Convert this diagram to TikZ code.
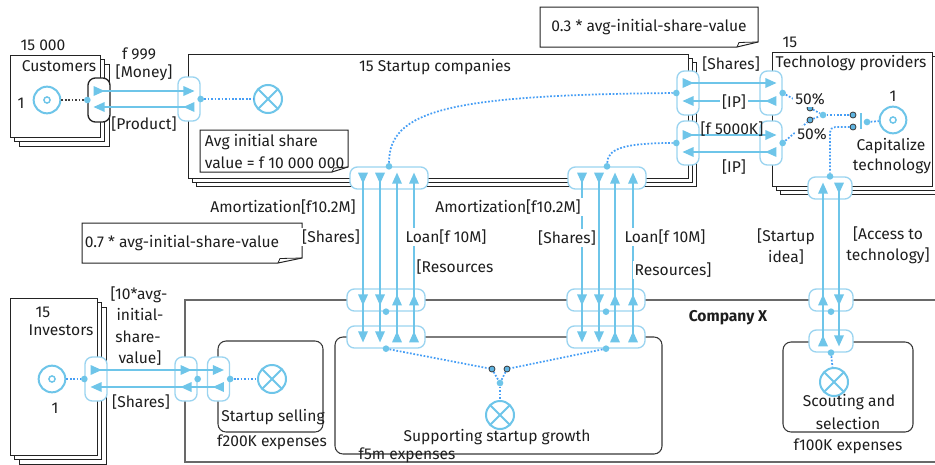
\documentclass[tikz,border=0pt]{standalone}
\usepackage{fontspec}
\setmainfont{Fira Sans}
\usetikzlibrary{decorations.markings}
\definecolor{flowc}{RGB}{110,197,233}
\definecolor{portc}{RGB}{155,212,240}
\definecolor{dotc}{RGB}{70,158,245}
\definecolor{txt}{RGB}{30,30,30}
\definecolor{edge}{RGB}{35,35,35}
\definecolor{boxc}{RGB}{55,55,55}
\definecolor{cxc}{RGB}{105,105,105}
\definecolor{ocf}{RGB}{95,180,225}
\tikzset{
  lbl/.style={text=txt, inner sep=0.5pt, font=\fontsize{11.7}{14}\selectfont},
  wl/.style={lbl, fill=white, inner sep=1.5pt},
  stackbox/.style={draw=edge, fill=white, line width=0.75pt},
  notebox/.style={draw=edge, fill=white, line width=0.75pt},
  foldline/.style={draw=edge, line width=0.6pt},
  portbox/.style={draw=portc, fill=white, rounded corners=5.5pt, line width=1pt, inner sep=0pt},
  vport/.style={portbox, minimum width=16.5pt, minimum height=33pt},
  hport/.style={portbox, minimum width=33pt, minimum height=16.5pt},
  wport/.style={portbox, minimum width=58.5pt, minimum height=16.5pt},
  flow/.style={draw=flowc, line width=1.4pt},
  mk/.style={postaction={decorate, decoration={markings, mark=at position #1 with {\fill[flowc] (-5.5,-5) -- (5.5,0) -- (-5.5,5) -- cycle;}}}},
  dot/.style={circle, fill=flowc, inner sep=0pt, minimum size=5pt},
  oc/.style={circle, draw=boxc, fill=ocf, line width=0.6pt, inner sep=0pt, minimum size=4.5pt},
  dotline/.style={draw=dotc, line width=1.3pt, dash pattern=on 1.3pt off 1.3pt},
  sink/.style={circle, draw=flowc, line width=1.5pt, minimum size=21pt, inner sep=0pt, fill=white,
     path picture={\draw[flowc, line width=1.5pt] (path picture bounding box.north west) -- (path picture bounding box.south east) (path picture bounding box.north east) -- (path picture bounding box.south west);}},
  source/.style={circle, draw=flowc, line width=1.5pt, minimum size=20pt, inner sep=0pt, fill=white,
     path picture={\draw[flowc, line width=1.1pt] (path picture bounding box.center) circle (2.3pt);}},
  ibox/.style={draw=boxc, line width=0.8pt, rounded corners=6pt},
}
\begin{document}
\begin{tikzpicture}[x=0.75pt,y=-0.75pt]
\useasboundingbox (0,0) rectangle (935,464);
\clip (0,0) rectangle (935,464);

% Company X
\draw[draw=cxc, line width=1.2pt] (185,300) rectangle (960,462);
\draw[ibox] (218,341) rectangle (323,432);
\draw[ibox] (335,337) rectangle (662,454);
\draw[ibox] (783,342) rectangle (913,432);

% stacks
\foreach \d in {9,4.5,0} \draw[stackbox] (10+\d,55+\d) rectangle (100+\d,137+\d);
\foreach \d in {8,4,0} \draw[stackbox] (188+\d,54+\d) rectangle (688+\d,178+\d);
\foreach \d in {8,4,0} \draw[stackbox] (772+\d,52+\d) rectangle (932+\d,186+\d);
\foreach \d in {9,4.5,0} \draw[stackbox] (10+\d,298+\d) rectangle (97+\d,455+\d);

% notes
\draw[notebox] (200,130) -- (348,130) -- (348,167) -- (332,172) -- (200,172) -- cycle;
\draw[foldline] (332,172) -- (334,168) -- (348,167);
\draw[notebox] (540,7) -- (758,7) -- (758,42) -- (737,47) -- (540,47) -- cycle;
\draw[foldline] (737,47) -- (739,42.5) -- (758,42);
\draw[notebox] (82,223) -- (302,223) -- (302,258) -- (278,263) -- (82,263) -- cycle;
\draw[foldline] (278,263) -- (280,258.5) -- (302,258);

% ports
\node[vport, draw=edge] (custP) at (99,100) {};
\node[vport] (suL) at (189,99) {};
\node[vport] (suR1) at (688,93) {};
\node[vport] (suR2) at (688,143) {};
\node[vport] (tpL1) at (771,93) {};
\node[vport] (tpL2) at (771,143) {};
\node[hport] (tpB) at (830,188) {};
\node[wport] (suB1) at (389,178) {};
\node[wport] (suB2) at (607,178) {};
\node[wport] (cxT1) at (386,300) {};
\node[wport] (cxT2) at (386,337) {};
\node[wport] (cxT3) at (606,300) {};
\node[wport] (cxT4) at (606,337) {};
\node[hport] (cxR1) at (831,300) {};
\node[hport] (cxR2) at (831,341) {};
\node[vport] (invP) at (96,379) {};
\node[vport] (cxL) at (186,379) {};
\node[vport] (ssP) at (218.5,379) {};

% flows
\draw[flow, mk=0.001, mk=0.999] (custP.center |- 0,91) -- (suL.center |- 0,91);
\draw[flow, mk=0.001, mk=0.999] (suL.center |- 0,107) -- (custP.center |- 0,107);
\draw[flow, mk=0.001, mk=0.999] (suR1.center |- 0,83) -- (tpL1.center |- 0,83);
\draw[flow, mk=0.001, mk=0.999] (tpL1.center |- 0,101) -- (suR1.center |- 0,101);
\draw[flow, mk=0.001, mk=0.999] (suR2.center |- 0,135) -- (tpL2.center |- 0,135);
\draw[flow, mk=0.001, mk=0.999] (tpL2.center |- 0,152) -- (suR2.center |- 0,152);
\foreach \x in {363,380} \draw[flow, mk=0.001, mk=0.767, mk=0.999] (suB1.center -| \x,0) -- (cxT2.center -| \x,0);
\foreach \x in {397,414} \draw[flow, mk=0.001, mk=0.233, mk=0.999] (cxT2.center -| \x,0) -- (suB1.center -| \x,0);
\foreach \x in {582,599} \draw[flow, mk=0.001, mk=0.767, mk=0.999] (suB2.center -| \x,0) -- (cxT4.center -| \x,0);
\foreach \x in {615,633} \draw[flow, mk=0.001, mk=0.233, mk=0.999] (cxT4.center -| \x,0) -- (suB2.center -| \x,0);
\draw[flow, mk=0.001, mk=0.268, mk=0.999] (cxR2.center -| 823,0) -- (tpB.center -| 823,0);
\draw[flow, mk=0.001, mk=0.732, mk=0.999] (tpB.center -| 839,0) -- (cxR2.center -| 839,0);
\draw[flow, mk=0.001, mk=0.735, mk=0.999] (invP.center |- 0,370) -- (ssP.center |- 0,370);
\draw[flow, mk=0.001, mk=0.265, mk=0.999] (ssP.center |- 0,387) -- (invP.center |- 0,387);

% sources and sinks
\node[source] (custSrc) at (47,100) {};
\node[sink] (suSink) at (268,99) {};
\node[source] (capSrc) at (893,120) {};
\node[source] (invSrc) at (52,379) {};
\node[sink] (ssSink) at (272,379) {};
\node[sink] (supSink) at (500,415) {};
\node[sink] (scSink) at (834,382) {};

% dots
\node[dot] (custPd) at (custP.west) {};
\node[dot] (suLd) at (suL.east) {};
\node[dot] (suB1d) at (suB1.north) {};
\node[dot] (suB2d) at (suB2.north) {};
\node[dot] (suR1d) at (suR1.west) {};
\node[dot] (suR2d) at (suR2.west) {};
\node[dot] (tpL1d) at (tpL1.east) {};
\node[dot] (tpL2d) at (tpL2.east) {};
\node[dot] (tpBd) at (tpB.north) {};
\node[dot] (cxT1d) at (cxT1.south) {};
\node[dot] (cxT2d) at (cxT2.south) {};
\node[dot] (cxT3d) at (cxT3.south) {};
\node[dot] (cxT4d) at (cxT4.south) {};
\node[dot] (cxR1d) at (cxR1.south) {};
\node[dot] (cxR2d) at (cxR2.south) {};
\node[dot] (invPd) at (invP.west) {};
\node[dot] (cxLd) at (cxL.east) {};
\node[dot] (ssPd) at (ssP.east) {};
\node[dot] (j1) at (823,115) {};
\node[dot] (j2) at (500,383) {};
\node[dot] (capD) at (867,122) {};
\node[oc] (oc1) at (810,108) {};
\node[oc] (oc2) at (810,120) {};
\node[oc] (oc3) at (853,115) {};
\node[oc] (oc4) at (853,127) {};
\node[oc] (oc5) at (492,369) {};
\node[oc] (oc6) at (507,369) {};
\node[fill=flowc, minimum width=1.5pt, minimum height=12.5pt, inner sep=0pt] (gate) at (861,121) {};

% dotted connectors
\draw[dotline, draw=black!75] (custSrc) -- (custPd);
\draw[dotline] (suLd) -- (suSink);
\draw[dotline] (suB1d) .. controls (389,110) and (450,95) .. (suR1d);
\draw[dotline] (suB2d) .. controls (608,150) and (620,143) .. (suR2d);
\draw[dotline] (tpL1d) -- (oc1);
\draw[dotline] (tpL2d) -- (oc2);
\draw[dotline] (oc1) -- (j1);
\draw[dotline] (oc2) -- (j1);
\draw[dotline] (j1) -- (oc3);
\draw[dotline, rounded corners=4pt] (oc4) -| (tpBd);
\draw[dotline] (capD) -- (capSrc);
\draw[dotline] (cxT2d) -- (oc5);
\draw[dotline] (cxT4d) -- (oc6);
\draw[dotline] (oc5) -- (j2);
\draw[dotline] (oc6) -- (j2);
\draw[dotline] (j2) -- (supSink);
\draw[dotline] (cxR2d) -- (scSink);
\draw[dotline] (invSrc) -- (invPd);
\draw[dotline] (ssPd) -- (ssSink);

% labels
\node[lbl] (tCust15) at (43,45) {15 000};
\node[lbl] (tCust) at (59,66) {Customers};
\node[lbl] (tCust1) at (21,103) {1};
\node[lbl] (tF999) at (139,54) {f 999};
\node[lbl] (tMoney) at (144,73) {[Money]};
\node[lbl] (tProduct) at (144,124) {[Product]};
\node[lbl] (tSU) at (435,67) {15 Startup companies};
\node[lbl, anchor=west] (tAvg1) at (204,142) {Avg initial share};
\node[lbl, anchor=west] (tAvg2) at (204,163) {value = f 10 000 000};
\node[lbl] (t03) at (649,27) {0.3 * avg-initial-share-value};
\node[lbl] (tSh1) at (731,64) {[Shares]};
\node[wl] (tIP1) at (734,102) {[IP]};
\node[lbl] (tF5000) at (732,129) {[f 5000K]};
\node[lbl] (tIP2) at (734,167) {[IP]};
\node[lbl] (tTP15) at (790,42) {15};
\node[lbl] (tTP) at (851,63) {Technology providers};
\node[wl] (t50a) at (810,99) {50\%};
\node[wl] (t50b) at (812,134) {50\%};
\node[lbl] (tCap1) at (893,96) {1};
\node[lbl] (tCap) at (891,146) {Capitalize};
\node[lbl] (tCap2) at (892,166) {technology};
\node[wl] (tAm1) at (283,207) {Amortization[f10.2M]};
\node[wl] (tAm2) at (508,207) {Amortization[f10.2M]};
\node[wl] (tShL) at (331,237) {[Shares]};
\node[wl] (tShR) at (567,238) {[Shares]};
\node[wl] (tLoanL) at (446,237) {Loan[f 10M]};
\node[wl] (tLoanR) at (665,237) {Loan[f 10M]};
\node[wl] (tResL) at (455,267) {[Resources};
\node[wl] (tResR) at (673,270) {Resources]};
\node[lbl] (t07) at (182,243) {0.7 * avg-initial-share-value};
\node[lbl] (tSI1) at (786,237) {[Startup};
\node[lbl] (tSI2) at (786,257) {idea]};
\node[lbl] (tAT1) at (888,234) {[Access to};
\node[lbl] (tAT2) at (888,256) {technology]};
\node[lbl, font=\fontsize{11.7}{14}\selectfont\bfseries] (tCX) at (728,318) {Company X};
\node[lbl] (tSc1) at (849,402) {Scouting and};
\node[lbl] (tSc2) at (848,424) {selection};
\node[lbl] (tSc3) at (848,446) {f100K expenses};
\node[lbl] (tInv15) at (43,312) {15};
\node[lbl] (tInv) at (61,330) {Investors};
\node[lbl] (tInv1) at (55,408) {1};
\node[lbl] (tTen1) at (139,295) {[10*avg-};
\node[lbl] (tTen2) at (140,315) {initial-};
\node[lbl] (tTen3) at (138,337) {share-};
\node[lbl] (tTen4) at (140,358) {value]};
\node[lbl] (tShInv) at (141,402) {[Shares]};
\node[lbl] (tSS1) at (273,417) {Startup selling};
\node[lbl] (tSS2) at (272,442) {f200K expenses};
\node[lbl] (tSup) at (497,437) {Supporting startup growth};
\node[lbl] (tSup2) at (407,455) {f5m expenses};
\end{tikzpicture}
\end{document}
